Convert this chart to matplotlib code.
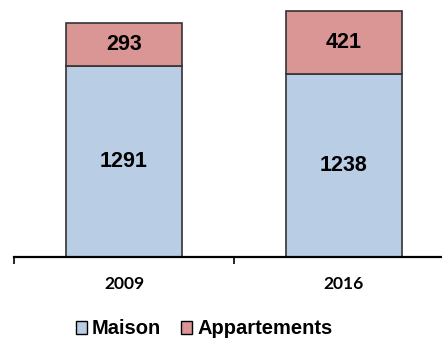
import matplotlib
matplotlib.use("Agg")
import matplotlib.pyplot as plt
from matplotlib.patches import Patch

years = ["2009", "2016"]
maison = [1291, 1238]
appartements = [293, 421]
series_names = ["Maison", "Appartements"]

col_maison = "#B9CDE5"
col_appart = "#D99694"
edge = "#333333"

fig = plt.figure(figsize=(4.42, 3.38), dpi=100)
ax = fig.add_axes([14 / 442, 81 / 338, 440 / 442, 257 / 338])

x = list(range(len(years)))
w = 0.527
b1 = ax.bar(x, maison, width=w, color=col_maison, edgecolor=edge, linewidth=1.2)
b2 = ax.bar(x, appartements, width=w, bottom=maison, color=col_appart,
            edgecolor=edge, linewidth=1.2)

for xi, m, a in zip(x, maison, appartements):
    ax.text(xi, m / 2, f"{m}", ha="center", va="center", fontsize=15.5,
            fontweight="bold", family="Liberation Sans")
    ax.text(xi, m + a / 2, f"{a}", ha="center", va="center", fontsize=15.5,
            fontweight="bold", family="Liberation Sans")

ax.set_xlim(-0.5, 1.5)
ax.set_ylim(0, 1736)
for s in ["top", "right", "left"]:
    ax.spines[s].set_visible(False)
ax.spines["bottom"].set_linewidth(1.6)
ax.spines["bottom"].set_color("black")
ax.set_yticks([])
ax.set_xticks(x)
ax.set_xticklabels(years, fontsize=12.5, fontweight="bold", family="Lato")
ax.tick_params(axis="x", which="major", length=0, pad=14)
ax.set_xticks([-0.5, 0.5, 1.5], minor=True)
ax.tick_params(axis="x", which="minor", length=5, width=1.2, direction="out")

handles = [Patch(facecolor=col_maison, edgecolor="black", linewidth=1),
           Patch(facecolor=col_appart, edgecolor="black", linewidth=1)]
fig.legend(handles, series_names, loc="center", bbox_to_anchor=(0.462, 9 / 338),
           ncol=2, frameon=False, handlelength=0.55, handleheight=0.6,
           handletextpad=0.25, columnspacing=1.0,
           prop={"family": "Liberation Sans", "weight": "bold", "size": 14.5})

fig.savefig("out.png", dpi=100)
